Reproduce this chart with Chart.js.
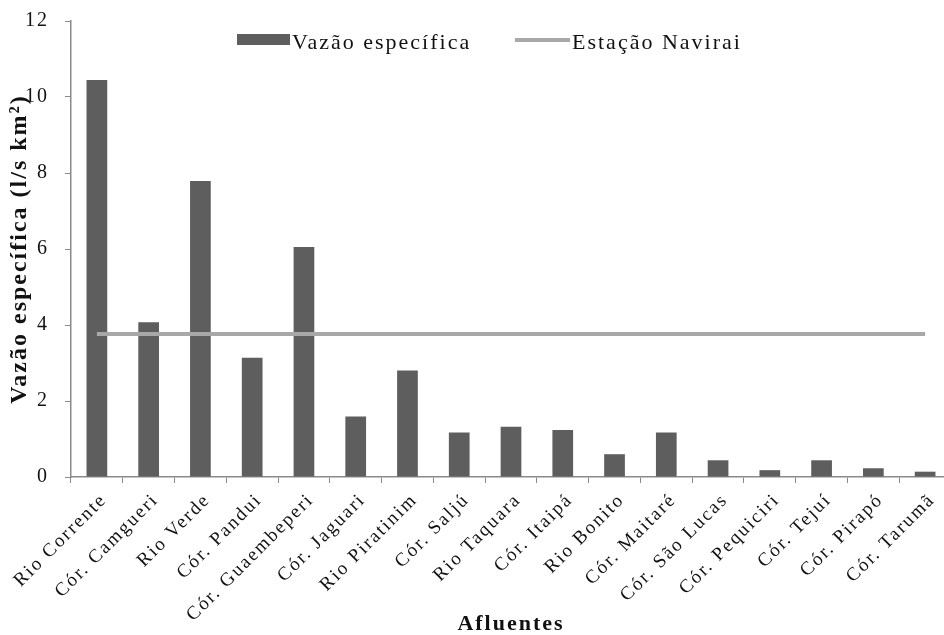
<!DOCTYPE html>
<html>
<head>
<meta charset="utf-8">
<script src="https://cdn.jsdelivr.net/npm/chart.js@4/dist/chart.umd.min.js"></script>
<style>
  html, body { margin: 0; padding: 0; background: #fff; overflow: hidden; }
  #wrap { width: 960px; height: 635px; }
</style>
</head>
<body>
<div id="wrap"><canvas id="grafico"></canvas></div>
<script>
// categorias (afluentes)
const afluentes = [
    "Rio Corrente", "Cór. Camgueri", "Rio Verde", "Cór. Pandui", "Cór. Guaembeperi",
    "Cór. Jaguari", "Rio Piratinim", "Cór. Saljú", "Rio Taquara", "Cór. Itaipá",
    "Rio Bonito", "Cór. Maitaré", "Cór. São Lucas", "Cór. Pequiciri", "Cór. Tejuí",
    "Cór. Pirapó", "Cór. Tarumã"
];

// vazão específica (l/s km²) de cada afluente
const vazaoEspecifica = [
    10.45, 4.07, 7.79, 3.14, 6.05,
    1.59, 2.80, 1.17, 1.32, 1.24,
    0.60, 1.17, 0.44, 0.18, 0.44,
    0.23, 0.14
];

// referência da estação Navirai
const estacaoNavirai = [
    3.76, 3.76, 3.76, 3.76, 3.76,
    3.76, 3.76, 3.76, 3.76, 3.76,
    3.76, 3.76, 3.76, 3.76, 3.76,
    3.76, 3.76
];

const yTicks = [0, 2, 4, 6, 8, 10, 12];

const corBarra = "#5e5e5e";
const corLinha = "#a8a8a8";
const corEixo = "#8a8a8a";
const fonte = "'Liberation Serif', 'Times New Roman', serif";

// espaçamento entre letras, como no original
const espacamento = {
    id: "espacamento",
    beforeLayout(chart) { chart.ctx.letterSpacing = "2px"; },
    beforeDraw(chart) { chart.ctx.letterSpacing = "2px"; }
};

// legenda desenhada dentro da área do gráfico
const legenda = {
    id: "legenda",
    afterDraw(chart) {
        const ctx = chart.ctx;
        const barra = chart.data.datasets.find(d => d.type === "bar");
        const linha = chart.data.datasets.find(d => d.type === "line");
        ctx.save();
        ctx.letterSpacing = "2px";
        ctx.font = "22px " + fonte;
        ctx.textBaseline = "alphabetic";

        ctx.fillStyle = corBarra;
        ctx.fillRect(237, 34, 53, 11);
        ctx.fillStyle = "#111";
        ctx.fillText(barra.label, 292, 49);

        ctx.strokeStyle = corLinha;
        ctx.lineWidth = 4;
        ctx.beginPath();
        ctx.moveTo(515, 40);
        ctx.lineTo(570, 40);
        ctx.stroke();
        ctx.fillText(linha.label, 572, 49);
        ctx.restore();
    }
};

new Chart(document.getElementById("grafico"), {
    data: {
        labels: afluentes,
        datasets: [
            {
                type: "line",
                label: "Estação Navirai",
                data: estacaoNavirai,
                borderColor: corLinha,
                borderWidth: 4,
                pointRadius: 0,
                fill: false,
                order: 0
            },
            {
                type: "bar",
                label: "Vazão específica",
                data: vazaoEspecifica,
                backgroundColor: corBarra,
                barPercentage: 0.4,
                categoryPercentage: 1,
                order: 1
            }
        ]
    },
    options: {
        responsive: true,
        maintainAspectRatio: false,
        animation: false,
        layout: { padding: { left: 0, right: 9, top: 21, bottom: 0 } },
        plugins: {
            legend: { display: false },
            tooltip: { enabled: false }
        },
        scales: {
            x: {
                offset: true,
                grid: { display: true, drawOnChartArea: false, offset: true, tickLength: 6, color: corEixo },
                border: { display: true, color: corEixo, width: 1.5 },
                ticks: {
                    color: "#111",
                    font: { family: fonte, size: 19 },
                    minRotation: 45,
                    maxRotation: 45,
                    autoSkip: false,
                    padding: 6,
                    labelOffset: 7
                },
                title: {
                    display: true,
                    text: "Afluentes",
                    color: "#111",
                    font: { family: fonte, size: 22, weight: "bold" },
                    padding: { top: 0, bottom: -3 }
                },
                afterFit(scale) { scale.height = 158; }
            },
            y: {
                min: 0,
                max: 12,
                afterBuildTicks(scale) { scale.ticks = yTicks.map(v => ({ value: v })); },
                grid: { display: true, drawOnChartArea: false, tickLength: 6, color: corEixo },
                border: { display: true, color: corEixo, width: 1.5 },
                ticks: {
                    color: "#111",
                    font: { family: fonte, size: 20 },
                    padding: 16
                },
                title: {
                    display: true,
                    text: "Vazão específica (l/s km²)",
                    color: "#111",
                    font: { family: fonte, size: 24, weight: "bold" },
                    padding: { top: 5, bottom: 0 }
                },
                afterFit(scale) {
                    scale.width = 71;
                    scale.paddingTop = 0;
                    scale.paddingBottom = 0;
                }
            }
        }
    },
    plugins: [espacamento, legenda]
});
</script>
</body>
</html>
